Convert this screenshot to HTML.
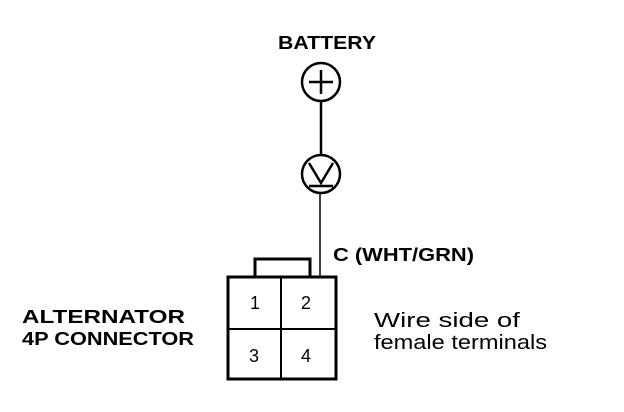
<!DOCTYPE html>
<html><head><style>
body{margin:0;background:#fff}
svg{display:block}
.b{font-family:"Liberation Sans",sans-serif;font-weight:bold;font-size:18px}
.r{font-family:"Liberation Sans",sans-serif;font-size:20px}
.n{font-family:"Liberation Sans",sans-serif;font-size:18px}
</style></head><body>
<svg width="624" height="412" viewBox="0 0 624 412" xmlns="http://www.w3.org/2000/svg">
<g fill="none" stroke="#000" stroke-width="2.5">
<circle cx="321" cy="82" r="19"/>
<line x1="321" y1="70" x2="321" y2="94"/>
<line x1="309" y1="82" x2="333" y2="82"/>
<line x1="321" y1="101" x2="321" y2="155"/>
<circle cx="321" cy="174" r="19"/>
<polyline points="309,163 321,183 333,163"/>
<line x1="309" y1="186" x2="333" y2="186"/>
<line x1="320" y1="193" x2="320" y2="276" stroke-width="1.5"/>
<rect x="228" y="277" width="108" height="102" stroke-width="3"/>
<line x1="281" y1="277" x2="281" y2="379" stroke-width="2"/>
<line x1="228" y1="329" x2="336" y2="329" stroke-width="2"/>
<polyline points="255,277 255,259 310,259 310,277" stroke-width="3"/>
</g>
<text class="b" x="278" y="49" textLength="98" lengthAdjust="spacingAndGlyphs">BATTERY</text>
<text class="b" x="333" y="261" textLength="141" lengthAdjust="spacingAndGlyphs">C (WHT/GRN)</text>
<text class="b" x="22" y="323" textLength="163" lengthAdjust="spacingAndGlyphs">ALTERNATOR</text>
<text class="b" x="22" y="345" textLength="172" lengthAdjust="spacingAndGlyphs">4P CONNECTOR</text>
<text class="r" x="374" y="327" textLength="146" lengthAdjust="spacingAndGlyphs">Wire side of</text>
<text class="r" x="374" y="349" textLength="173" lengthAdjust="spacingAndGlyphs">female terminals</text>
<text class="n" x="250" y="309">1</text>
<text class="n" x="301" y="309">2</text>
<text class="n" x="249" y="362">3</text>
<text class="n" x="301" y="362">4</text>
</svg>
</body></html>
